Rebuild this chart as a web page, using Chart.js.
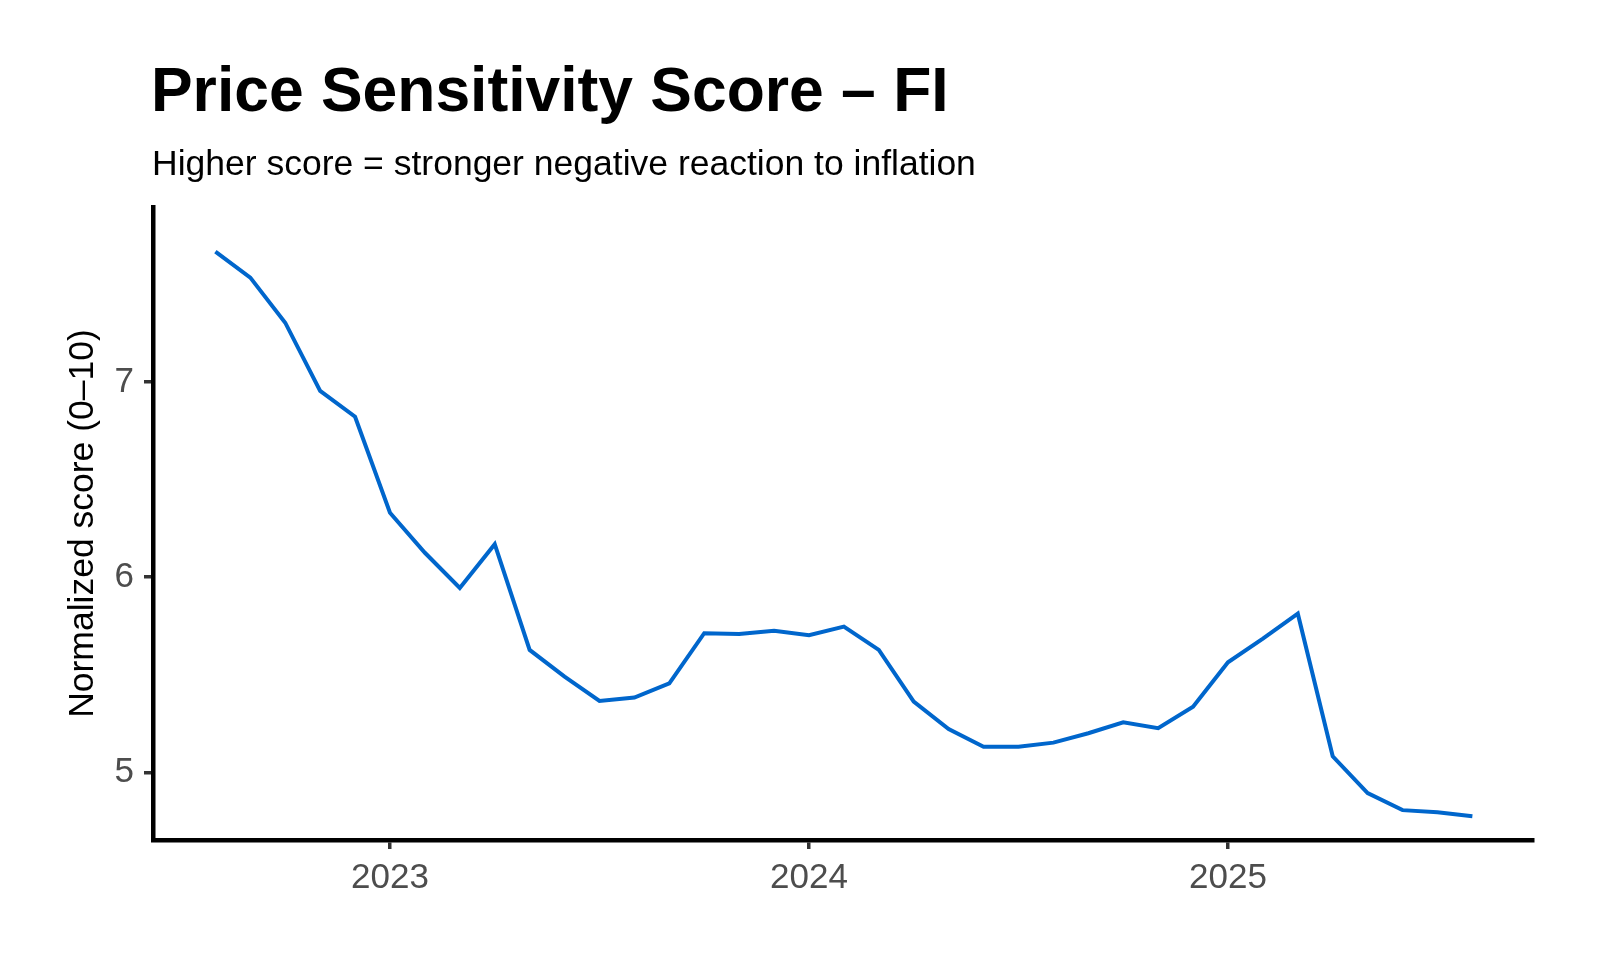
<!DOCTYPE html>
<html>
<head>
<meta charset="utf-8">
<script src="https://cdn.jsdelivr.net/npm/chart.js@4/dist/chart.umd.min.js"></script>
<style>
  html, body { margin: 0; padding: 0; background: #ffffff; }
  #wrap { width: 1600px; height: 960px; position: relative; }
</style>
</head>
<body>
<div id="wrap"><canvas id="c" width="1600" height="960"></canvas></div>
<script>
const titleText = 'Price Sensitivity Score \u2013 FI';
const subtitleText = 'Higher score = stronger negative reaction to inflation';
const yAxisTitle = 'Normalized score (0\u201310)';

const months = [
  '2022-08','2022-09','2022-10','2022-11','2022-12',
  '2023-01','2023-02','2023-03','2023-04','2023-05','2023-06','2023-07','2023-08','2023-09','2023-10','2023-11','2023-12',
  '2024-01','2024-02','2024-03','2024-04','2024-05','2024-06','2024-07','2024-08','2024-09','2024-10','2024-11','2024-12',
  '2025-01','2025-02','2025-03','2025-04','2025-05','2025-06','2025-07','2025-08'
];
const scores = [
  7.668, 7.535, 7.304, 6.955, 6.822,
  6.330, 6.125, 5.945, 6.169, 5.627, 5.490, 5.366, 5.383, 5.456, 5.713, 5.709, 5.725,
  5.703, 5.747, 5.627, 5.362, 5.222, 5.131, 5.131, 5.152, 5.200, 5.256, 5.226, 5.336,
  5.564, 5.685, 5.813, 5.082, 4.893, 4.806, 4.795, 4.775
];
const xTickYears = [2023, 2024, 2025];
const yTickValues = [5, 6, 7];

function monthToYear(m) {
  const [y, mo] = m.split('-').map(Number);
  return y + (mo - 1) / 12;
}
const points = months.map((m, i) => ({ x: monthToYear(m), y: scores[i] }));

const FONT = "'Liberation Sans', Arial, Helvetica, sans-serif";

const headerPlugin = {
  id: 'header',
  afterDraw(chart) {
    const ctx = chart.ctx;
    const left = chart.chartArea.left;
    ctx.save();
    ctx.fillStyle = '#000000';
    ctx.textAlign = 'left';
    ctx.textBaseline = 'alphabetic';
    ctx.font = "bold 62.4px " + FONT;
    ctx.fillText(titleText, left - 2, 111);
    ctx.font = "35.5px " + FONT;
    ctx.fillText(subtitleText, left - 1, 175);
    ctx.restore();
  }
};

new Chart(document.getElementById('c'), {
  type: 'line',
  data: {
    datasets: [{
      data: points,
      borderColor: '#0066CC',
      borderWidth: 4,
      pointRadius: 0,
      pointHoverRadius: 0,
      tension: 0,
      fill: false
    }]
  },
  options: {
    responsive: false,
    animation: false,
    devicePixelRatio: 1,
    layout: { padding: { left: 62, right: 67, top: 207, bottom: 0 } },
    plugins: {
      legend: { display: false },
      tooltip: { enabled: false },
      title: { display: false }
    },
    scales: {
      x: {
        type: 'linear',
        min: 2022.4344,
        max: 2025.728,
        afterBuildTicks: (s) => { s.ticks = xTickYears.map(v => ({ value: v })); },
        afterFit: (s) => { s.height = 120; },
        ticks: {
          callback: (v) => String(v),
          color: '#4D4D4D',
          font: { family: FONT, size: 35 },
          padding: 8,
          maxRotation: 0
        },
        grid: {
          drawOnChartArea: false,
          drawTicks: true,
          tickLength: 9,
          lineWidth: 3.5,
          color: '#333333'
        },
        border: { display: true, color: '#000000', width: 4.5 }
      },
      y: {
        type: 'linear',
        min: 4.653,
        max: 7.897,
        afterBuildTicks: (s) => { s.ticks = yTickValues.map(v => ({ value: v })); },
        afterFit: (s) => { s.width = 91; },
        ticks: {
          callback: (v) => String(v),
          color: '#4D4D4D',
          font: { family: FONT, size: 35 },
          padding: 10
        },
        title: {
          display: true,
          text: yAxisTitle,
          color: '#000000',
          font: { family: FONT, size: 35.5 },
          padding: 0
        },
        grid: {
          drawOnChartArea: false,
          drawTicks: true,
          tickLength: 9,
          lineWidth: 3.5,
          color: '#333333'
        },
        border: { display: true, color: '#000000', width: 4.5 }
      }
    }
  },
  plugins: [headerPlugin]
});
</script>
</body>
</html>
